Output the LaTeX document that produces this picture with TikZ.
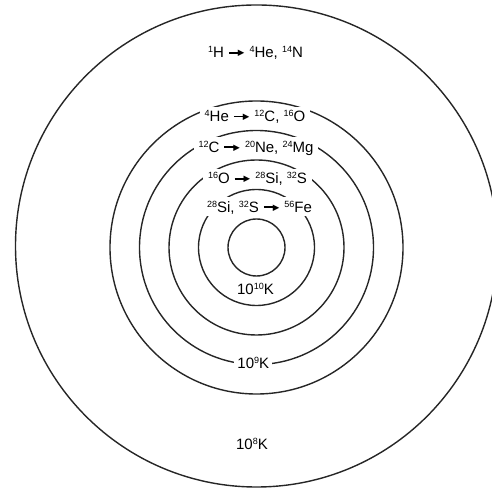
\documentclass[tikz,border=0pt]{standalone}
\usepackage{fontspec}
\setmainfont{Liberation Sans}
\newfontfamily\symfont{DejaVu Sans}
\usetikzlibrary{arrows.meta}
% mass number written before the element
\newcommand{\iso}[2]{\raisebox{5.2bp}{\fontsize{9bp}{9bp}\selectfont #1}#2}
% reaction arrow: bold stem with a filled head
\newcommand{\yields}{\hspace{5bp}\rule[4.4bp]{11bp}{1.7bp}\kern-2bp\raisebox{2.2bp}{\fontsize{8.5bp}{8.5bp}\symfont ▶}\hspace{5bp}}

\begin{document}
\begin{tikzpicture}[x=1bp,y=1bp,font=\fontsize{15bp}{18bp}\selectfont,
  shell/.style={draw=black!85,line width=1.4bp},
  gap/.style={fill=white,anchor=base,inner xsep=5bp,inner ysep=4bp,text height=11bp,text depth=0bp},
  zone/.style={anchor=base,inner sep=1bp}]
\useasboundingbox (0,0) rectangle (492,488);
\coordinate (O) at (256.5,240.5);
% shells, core first
\foreach \r in {28.5,58,87.5,117,146.5}{\draw[shell] (O) circle[radius=\r];}
\draw[shell] (256.5,242) circle[radius=241];
% burning stages, sitting on the shell lines
\node[zone] (burnH) at (255.5,430) {\iso{1}{H}\yields\iso{4}{He}, \iso{14}{N}};
\node[gap] (burnHe) at (255,366.3) {\iso{4}{He}\yields\iso{12}{C}, \iso{16}{O}};
\node[gap] (burnC) at (256,335.5) {\iso{12}{C}\yields\iso{20}{Ne}, \iso{24}{Mg}};
\node[gap] (burnO) at (257.5,304) {\iso{16}{O}\yields\iso{28}{Si}, \iso{32}{S}};
\node[gap] (burnSi) at (259.5,275.7) {\iso{28}{Si}, \iso{32}{S}\yields\iso{56}{Fe}};
% temperatures
\node[zone] (tcore) at (255.5,193) {10\iso{10}{K}};
\node[gap,inner xsep=3bp] (tmid) at (253.3,119) {10\iso{9}{K}};
\node[zone] (tout) at (252,38) {10\iso{8}{K}};
\end{tikzpicture}
\end{document}
